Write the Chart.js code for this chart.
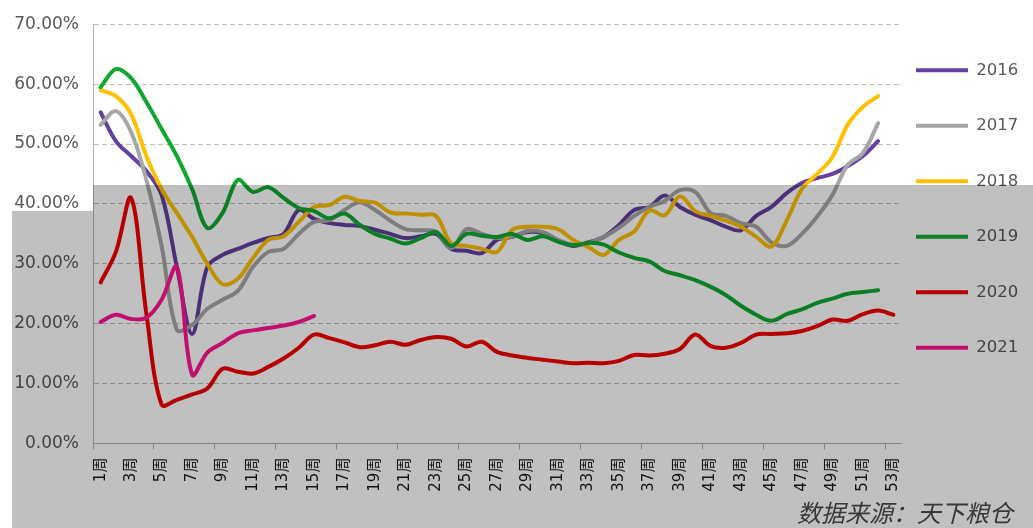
<!DOCTYPE html>
<html>
<head>
<meta charset="utf-8">
<script src="https://cdn.jsdelivr.net/npm/chart.js@4.4.0/dist/chart.umd.min.js"></script>
<style>
  html, body { margin: 0; padding: 0; background: #fff; }
  #wrap { width: 1033px; height: 528px; position: relative; }
</style>
</head>
<body>
<div id="wrap"><canvas id="chart"></canvas></div>
<script>
const weeks = ['1周', '2周', '3周', '4周', '5周', '6周', '7周', '8周', '9周', '10周',
  '11周', '12周', '13周', '14周', '15周', '16周', '17周', '18周', '19周', '20周',
  '21周', '22周', '23周', '24周', '25周', '26周', '27周', '28周', '29周', '30周',
  '31周', '32周', '33周', '34周', '35周', '36周', '37周', '38周', '39周', '40周',
  '41周', '42周', '43周', '44周', '45周', '46周', '47周', '48周', '49周', '50周',
  '51周', '52周', '53周']

const yTicks = [0, 10, 20, 30, 40, 50, 60, 70]

const seriesNames = ['2016', '2017', '2018', '2019', '2020', '2021']

const y2016 = [55.3, 50.5, 48, 45.5, 41.5, 29.5, 18.3, 29.5, 31.5, 32.5,
  33.5, 34.3, 35, 39, 37.5, 36.8, 36.5, 36.3, 35.7, 35,
  34.3, 34.6, 35, 32.5, 32.2, 31.8, 34, 34.5, 35.3, 35.1,
  33.8, 33, 33.6, 34.5, 36.5, 39, 39.5, 41.4, 39.5, 38.2,
  37.3, 36.2, 35.6, 38, 39.5, 41.8, 43.5, 44.3, 45, 46.3,
  48, 50.5]

const y2017 = [53.2, 55.5, 52, 44, 33, 19, 19.8, 22.5, 24, 25.5,
  29.5, 32, 32.5, 35, 37, 37.3, 39, 40.3, 39, 37.2,
  35.8, 35.6, 35.4, 32.6, 35.8, 35, 34.3, 34.5, 35.5, 35.3,
  34, 33.2, 33.5, 34.5, 36, 38, 39.5, 40.5, 42.3, 42,
  38.5, 38, 36.8, 36.2, 33.6, 33, 35, 37.9, 41.5, 46.5,
  48.5, 53.5]

const y2018 = [59, 58, 55, 48, 42.5, 38.5, 34.5, 30, 26.6, 27.5,
  31, 34, 34.6, 37, 39.5, 39.8, 41.2, 40.5, 40.2, 38.6,
  38.4, 38.2, 38, 33.4, 33, 32.5, 32, 35.7, 36.2, 36.2,
  35.8, 34, 32.8, 31.5, 34, 35.4, 38.9, 38.1, 41.3, 38.8,
  38, 37.2, 36.2, 34.5, 32.9, 37.2, 42.5, 45, 47.8, 53.2,
  56.2, 58]

const y2019 = [59.5, 62.5, 61, 57, 52.5, 48, 42.5, 36, 38.5, 44,
  42, 42.8, 41, 39.3, 38.8, 37.6, 38.4, 36.5, 35, 34.2,
  33.4, 34.3, 35.3, 33, 35, 34.7, 34.5, 35, 34, 34.6,
  33.7, 33.1, 33.5, 33.2, 31.9, 31, 30.4, 28.8, 28.1, 27.3,
  26.2, 24.8, 23, 21.5, 20.5, 21.6, 22.4, 23.5, 24.2, 25,
  25.3, 25.6]

const y2020 = [26.9, 32, 41, 21.7, 6.5, 7.3, 8.2, 9.2, 12.5, 12,
  11.7, 12.8, 14.2, 16, 18.2, 17.6, 16.9, 16.1, 16.4, 17,
  16.5, 17.3, 17.8, 17.5, 16.2, 17, 15.3, 14.7, 14.3, 14,
  13.7, 13.4, 13.5, 13.4, 13.8, 14.8, 14.7, 15, 15.8, 18.2,
  16.3, 16, 16.8, 18.2, 18.3, 18.4, 18.8, 19.6, 20.7, 20.5,
  21.6, 22.2, 21.5]

const y2021 = [20.3, 21.5, 20.8, 21, 24, 29.5, 11.5, 15.2, 16.8, 18.4,
  18.9, 19.3, 19.7, 20.3, 21.3]

const seriesValues = [y2016, y2017, y2018, y2019, y2020, y2021]
const seriesColors = ['#6440a0', '#a6a6a6', '#ffc000', '#10a830', '#f20000', '#ff1493']

// the screenshot has a grey selection laid over the lower part
const paper = {
	id: 'paper',
	beforeDraw(chart) {
		const ctx = chart.ctx;
		ctx.save();
		ctx.fillStyle = '#fff';
		ctx.fillRect(0, 0, chart.width, chart.height);
		ctx.restore();
	},
	afterDraw(chart) {
		const ctx = chart.ctx;
		const left = chart.chartArea.left;
		ctx.save();
		ctx.globalCompositeOperation = 'multiply';
		ctx.fillStyle = 'rgb(192,192,192)';
		ctx.beginPath();
		ctx.moveTo(left, 185);
		ctx.lineTo(chart.width, 185);
		ctx.lineTo(chart.width, chart.height);
		ctx.lineTo(12, chart.height);
		ctx.lineTo(12, 211);
		ctx.lineTo(left, 211);
		ctx.closePath();
		ctx.fill();
		ctx.restore();
	}
}

// park the legend column where the reference has it
const legendSpot = {
	id: 'legendSpot',
	afterLayout(chart) {
		const lg = chart.legend;
		const pad = lg.options.labels.padding;
		lg.left = chart.chartArea.right + 15 - pad;
		lg.right = chart.width;
		lg.top = 23;
		lg.bottom = chart.height;
	}
}

const datasets = seriesValues.map((vals, i) => ({
	label: seriesNames[i],
	data: vals,
	borderColor: seriesColors[i],
	backgroundColor: seriesColors[i],
	order: seriesValues.length - i
}))

new Chart(document.getElementById('chart'), {
	type: 'line',
	data: {
		labels: weeks,
		datasets: datasets
	},
	options: {
		responsive: true,
		maintainAspectRatio: false,
		animation: false,
		layout: {
			padding: { left: 0, right: 20, top: 18, bottom: 2 }
		},
		elements: {
			point: { radius: 0 },
			line: { tension: 0.35, borderWidth: 4, borderCapStyle: 'round', borderJoinStyle: 'round' }
		},
		plugins: {
			tooltip: { enabled: false },
			legend: {
				position: 'right',
				align: 'start',
				maxWidth: 112,
				labels: {
					boxWidth: 52,
					boxHeight: 4,
					padding: 39,
					textAlign: 'left',
					color: '#595959',
					font: { family: 'DejaVu Sans', size: 16.5 },
					sort: (a, b) => a.datasetIndex - b.datasetIndex,
					generateLabels: (chart) => Chart.defaults.plugins.legend.labels.generateLabels(chart)
						.map(l => Object.assign(l, { lineWidth: 0 }))
				}
			},
			title: {
				display: true,
				position: 'bottom',
				align: 'end',
				text: '数据来源：天下粮仓',
				color: '#4a4a4a',
				padding: 0,
				font: { family: '"Noto Sans CJK SC"', size: 24, style: 'italic', weight: 'normal', lineHeight: 1.1 }
			}
		},
		scales: {
			x: {
				offset: true,
				grid: {
					offset: true,
					drawOnChartArea: false,
					tickLength: 6,
					color: (c) => c.index % 4 === 0 ? '#b3b3b3' : 'rgba(0,0,0,0)'
				},
				border: { color: '#b3b3b3' },
				ticks: {
					autoSkip: false,
					maxRotation: 90,
					minRotation: 90,
					padding: 8,
					color: '#1a1a1a',
					font: { family: '"DejaVu Sans", "Noto Sans CJK SC"', size: 15 },
					callback: (v, i) => i % 2 === 0 ? weeks[i] : ''
				},
				afterFit: (s) => { s.height = 56; }
			},
			y: {
				min: yTicks[0],
				max: yTicks[yTicks.length - 1],
				grid: { drawTicks: false, color: '#bcbcbc' },
				border: { color: '#b3b3b3', dash: [5, 3] },
				ticks: {
					stepSize: 10,
					padding: 14,
					color: '#595959',
					font: { family: 'DejaVu Sans', size: 17 },
					callback: (v) => v.toFixed(2) + '%'
				},
				afterFit: (s) => { s.width = 93; }
			}
		}
	},
	plugins: [paper, legendSpot]
});
</script>
</body>
</html>
